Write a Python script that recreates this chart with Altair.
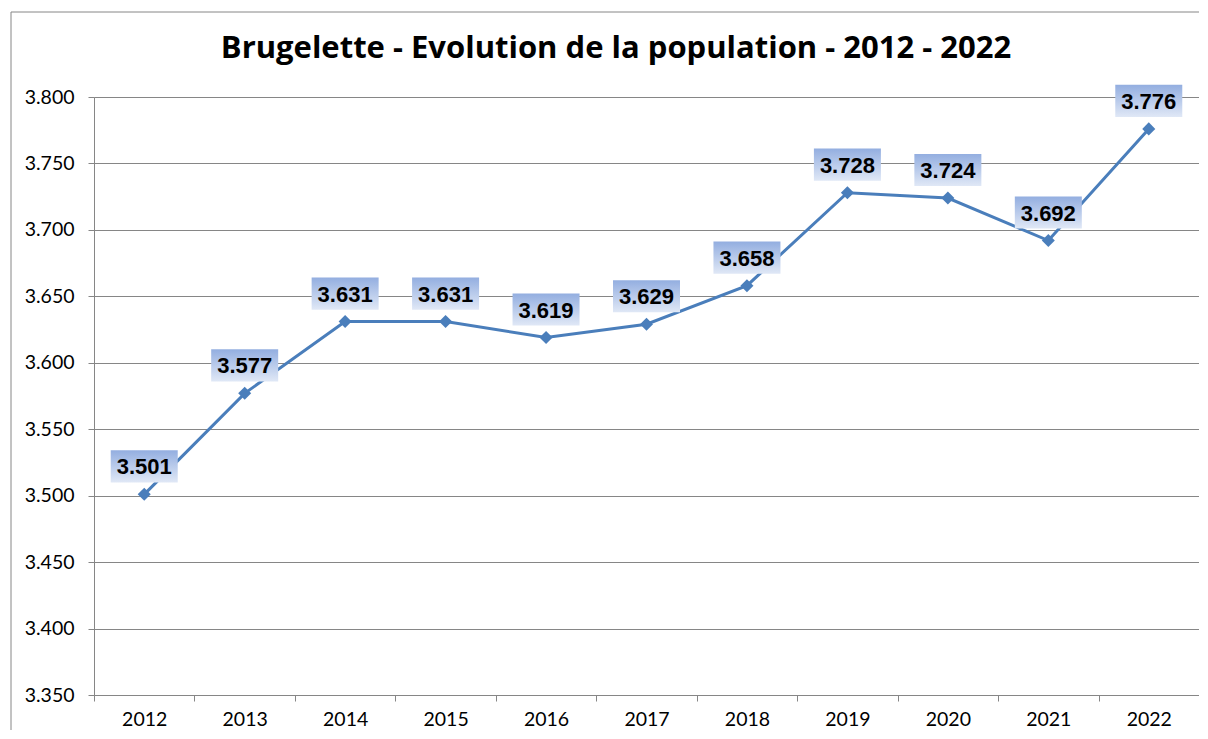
import altair as alt
import pandas as pd

years = ["2012", "2013", "2014", "2015", "2016", "2017", "2018", "2019", "2020", "2021", "2022"]
population = [3501, 3577, 3631, 3631, 3619, 3629, 3658, 3728, 3724, 3692, 3776]
y_ticks = [3350, 3400, 3450, 3500, 3550, 3600, 3650, 3700, 3750, 3800]
title_text = "Brugelette - Evolution de la population - 2012 - 2022"

df = pd.DataFrame({"year": years, "pop": population})
df["label"] = [f"{v:,}".replace(",", ".") for v in population]

LINE = "#4a7ebb"
GRID = "#868686"

x = alt.X("year:O", title=None, sort=years,
          scale=alt.Scale(type="band", paddingInner=0, paddingOuter=0),
          axis=alt.Axis(labelAngle=0, tickBand="extent", domainColor=GRID, tickColor=GRID,
                        tickSize=6, labelPadding=9, labelFont="Lato", labelFontSize=19.5,
                        labelColor="#000000", grid=False))
y = alt.Y("pop:Q", title=None,
          scale=alt.Scale(domain=[3350, 3800], nice=False, zero=False),
          axis=alt.Axis(values=y_ticks, grid=True, gridColor=GRID, gridWidth=1,
                        domainColor=GRID, tickColor=GRID, tickSize=6, labelPadding=14,
                        labelFont="Lato", labelFontSize=19.5, labelColor="#000000",
                        labelExpr="replace(format(datum.value, ',.0f'), ',', '.')"))

base = alt.Chart(df)

line = base.mark_line(color=LINE, strokeWidth=3).encode(x=x, y=y)
pts = base.mark_point(shape="diamond", filled=True, color=LINE, opacity=1, size=170).encode(x=x, y=y)

grad = alt.LinearGradient(gradient="linear", x1=0, y1=0, x2=0, y2=1,
                          stops=[alt.GradientStop(offset=0, color="#93aee0"),
                                 alt.GradientStop(offset=1, color="#e0e8f6")])
boxes = base.mark_point(shape="M-1,-0.48 L1,-0.48 L1,0.48 L-1,0.48 Z", filled=True,
                        fill=grad, opacity=1, strokeWidth=0, size=4489, yOffset=-28).encode(x=x, y=y)
labels = base.mark_text(font="Liberation Sans", fontWeight="bold", fontSize=22, color="#000000",
                        baseline="middle", align="center", dy=-27).encode(x=x, y=y, text="label:N")

frame_df = pd.DataFrame({"t": [title_text]})
border = alt.Chart(frame_df).mark_rect(fill=None, stroke=GRID, strokeWidth=1).encode(
    x=alt.value(-83), x2=alt.value(1400), y=alt.value(-85), y2=alt.value(900))
title = alt.Chart(frame_df).mark_text(font="Open Sans", fontSize=31, fontWeight="bold",
                                      color="#000000", align="center", baseline="middle").encode(
    x=alt.value(522), y=alt.value(-48), text="t:N")

chart = alt.layer(border, title, line, pts, boxes, labels).properties(
    width=1105, height=598,
    autosize=alt.AutoSizeParams(type="none"),
    padding={"left": 86, "top": 89, "right": 0, "bottom": 35},
).configure_view(stroke=None).configure(background="#ffffff")

chart.save("out.html", embed_options={"renderer": "svg", "actions": False})
